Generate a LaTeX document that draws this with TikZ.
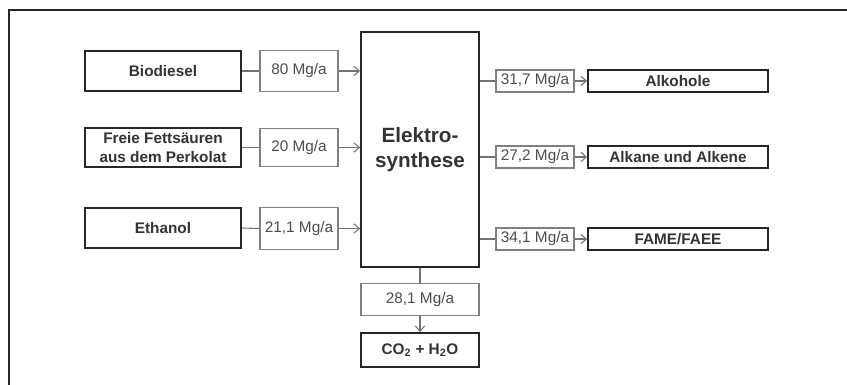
\documentclass[tikz,border=0pt]{standalone}
\usepackage{fontspec}
\setmainfont{Liberation Sans}
\usetikzlibrary{arrows.meta, positioning, calc}

\tikzset{
  quelle/.style={draw=black!85, line width=1.4pt, minimum width=117pt, minimum height=30.5pt,
    inner sep=1pt, align=center, font=\fontsize{11.5}{14.5}\selectfont\bfseries, text=black!80},
  menge/.style={draw=black!50, line width=0.8pt, minimum width=58.5pt, minimum height=31pt,
    inner sep=1pt, font=\fontsize{11.5}{13}\selectfont, text=black!70},
  mengeklein/.style={menge, minimum height=16.5pt},
  produkt/.style={draw=black!85, line width=1.4pt, minimum width=135pt, minimum height=16.5pt,
    inner sep=1pt, font=\fontsize{11.5}{13}\selectfont\bfseries, text=black!80},
  fluss/.style={draw=black!55, line width=0.8pt},
  pfeil/.style={fluss, -{Straight Barb[length=4pt, width=7pt]}}
}

\begin{document}
\begin{tikzpicture}[x=0.75pt, y=-0.75pt]
\useasboundingbox (0,0) rectangle (847,385);
% Rahmen
\draw[line width=1.5pt, black!85] (9,385) -- (9,10) -- (847,10);
% Eingaenge
\node[quelle] (bio) at (163,71) {Biodiesel};
\node[quelle, minimum height=29pt] (fett) at (163,147.5) {Freie Fettsäuren\\aus dem Perkolat};
\node[quelle] (eth) at (163,228) {Ethanol};
\node[menge] (m80) at (299,71) {80 Mg/a};
\node[menge, minimum height=29pt] (m20) at (299,147.5) {20 Mg/a};
\node[menge] (m21) at (299,228.5) {21,1 Mg/a};
% Elektrosynthese
\node[draw=black!85, line width=1.4pt, minimum width=88.5pt, minimum height=176pt, align=center,
  font=\fontsize{15.5}{19}\selectfont\bfseries, text=black!80] (elek) at (420,149.5) {Elektro-\\synthese};
% Ausgaenge
\node[mengeklein] (m317) at (535,81) {31,7 Mg/a};
\node[mengeklein] (m272) at (535,157) {27,2 Mg/a};
\node[mengeklein] (m341) at (535,239) {34,1 Mg/a};
\node[produkt] (alk) at (678,81) {Alkohole};
\node[produkt] (alkene) at (678,157) {Alkane und Alkene};
\node[produkt] (fame) at (678,239) {FAME/FAEE};
% Abgas
\node[menge, minimum width=88.5pt, minimum height=24.5pt] (m281) at (420,299.5) {28,1 Mg/a};
\node[quelle, minimum width=88.5pt, minimum height=25.5pt] (co2) at (420,350) {CO\textsubscript{2} + H\textsubscript{2}O};
% Verbindungen links
\foreach \a/\b in {bio/m80, fett/m20, eth/m21}{
  \draw[fluss] (\a.east) -- (\b.west);
  \draw[pfeil] (\b.east) -- (\b.east -| elek.west);
}
% Verbindungen rechts
\foreach \a/\b in {m317/alk, m272/alkene, m341/fame}{
  \draw[fluss] (\a.west -| elek.east) -- (\a.west);
  \draw[pfeil] (\a.east) -- (\b.west);
}
% unten
\draw[fluss] (elek.south) -- (m281.north);
\draw[pfeil] (m281.south) -- (co2.north);
\end{tikzpicture}
\end{document}
